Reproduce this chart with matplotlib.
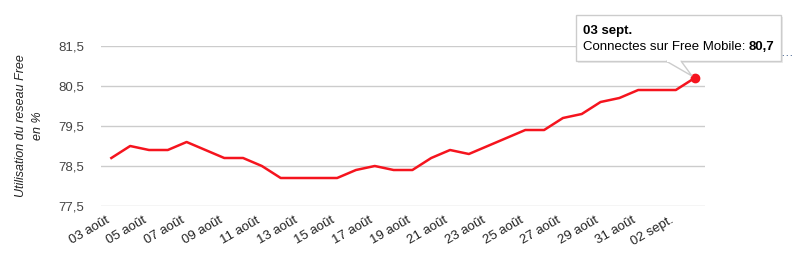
import numpy as np
import matplotlib
matplotlib.use("Agg")
import matplotlib.pyplot as plt
from matplotlib.patches import Rectangle, Polygon
from matplotlib.transforms import offset_copy

plt.rcParams['font.family'] = ['Liberation Sans', 'DejaVu Sans']

# ---- data ----
dates = ["03 août", "04 août", "05 août", "06 août", "07 août", "08 août", "09 août", "10 août",
         "11 août", "12 août", "13 août", "14 août", "15 août", "16 août", "17 août", "18 août",
         "19 août", "20 août", "21 août", "22 août", "23 août", "24 août", "25 août", "26 août",
         "27 août", "28 août", "29 août", "30 août", "31 août", "01 sept.", "02 sept.", "03 sept."]
usage = [78.7, 79.0, 78.9, 78.9, 79.1, 78.9, 78.7, 78.7, 78.5, 78.2, 78.2, 78.2, 78.2, 78.4, 78.5, 78.4,
         78.4, 78.7, 78.9, 78.8, 79.0, 79.2, 79.4, 79.4, 79.7, 79.8, 80.1, 80.2, 80.4, 80.4, 80.4, 80.7]
yticks = [77.5, 78.5, 79.5, 80.5, 81.5]

W, H = 805, 280
fig = plt.figure(figsize=(W / 100, H / 100), dpi=100)
# axes box in pixels: left 101, right 705, top 46, bottom 206
ax = fig.add_axes([101 / W, (H - 206) / H, (705 - 101) / W, (206 - 46) / H])

x = np.arange(len(usage))
ax.plot(x, usage, color="#f5141e", lw=1.8, solid_joinstyle="round", zorder=3)
ax.plot(x[-1], usage[-1], "o", color="#f5141e", ms=6, zorder=4)

ax.set_xlim(-0.55, len(usage) - 0.45)
ax.set_ylim(77.5, 81.5)
ax.set_yticks(yticks)
ax.set_yticklabels([f"{v:.1f}".replace(".", ",") for v in yticks], fontsize=9.5, color="#444444")
ax.grid(axis="y", color="#cccccc", lw=1)
ax.set_axisbelow(True)
for s in ax.spines.values():
    s.set_visible(False)
ax.tick_params(axis="both", length=0)
ax.tick_params(axis="y", pad=12)

ax.set_xticks(x[::2])
ax.set_xticklabels(dates[::2], rotation=30, ha="right", rotation_mode="anchor",
                   fontsize=9.5, color="#222222")
ax.tick_params(axis="x", pad=6)
for lab in ax.get_xticklabels():
    lab.set_transform(offset_copy(lab.get_transform(), fig=fig, x=-6, y=0, units="dots"))

fig.text(29.5 / W, 1 - 126 / H, "Utilisation du reseau Free\nen %", rotation=90, ha="center",
         va="center", fontsize=9, style="italic", color="#222222", linespacing=1.5)

# tooltip
def px(xp, yp):
    return (xp / W, 1 - yp / H)

bx0, by0, bx1, by1 = 576, 15, 781, 61
fig.patches.append(Rectangle(px(bx0 + 2, by1 + 2), (bx1 - bx0) / W, (by1 - by0) / H,
                             transform=fig.transFigure, fc="#000000", alpha=0.08, ec="none", zorder=9))
fig.patches.append(Rectangle(px(bx0, by1), (bx1 - bx0) / W, (by1 - by0) / H,
                             transform=fig.transFigure, fc="white", ec="#cccccc", lw=1, zorder=10))
fig.patches.append(Polygon([px(666, by1), px(692, 76), px(681, by1)], closed=False,
                           transform=fig.transFigure, fc="white", ec="#cccccc", lw=1, zorder=10))
fig.patches.append(Polygon([px(667, by1 - 0.5), px(680, by1 - 0.5)], closed=False,
                           transform=fig.transFigure, fc="none", ec="white", lw=1.5, zorder=11))
fig.text(583 / W, 1 - 31 / H, "03 sept.", fontsize=9.5, fontweight="bold", color="#000000",
         ha="left", va="center", zorder=12)
t = fig.text(583 / W, 1 - 47 / H, "Connectes sur Free Mobile: ", fontsize=9.5, color="#000000",
             ha="left", va="center", zorder=12)
fig.canvas.draw()
bb = t.get_window_extent()
fig.text(bb.x1 / W, 1 - 47 / H, f"{usage[-1]:.1f}".replace(".", ","), fontsize=9.5,
         fontweight="bold", color="#000000", ha="left", va="center", zorder=12)
fig.text(787 / W, 1 - 53 / H, "…", fontsize=9, color="#3a5a8a", ha="center", va="center")

fig.savefig("out.png", dpi=100)
